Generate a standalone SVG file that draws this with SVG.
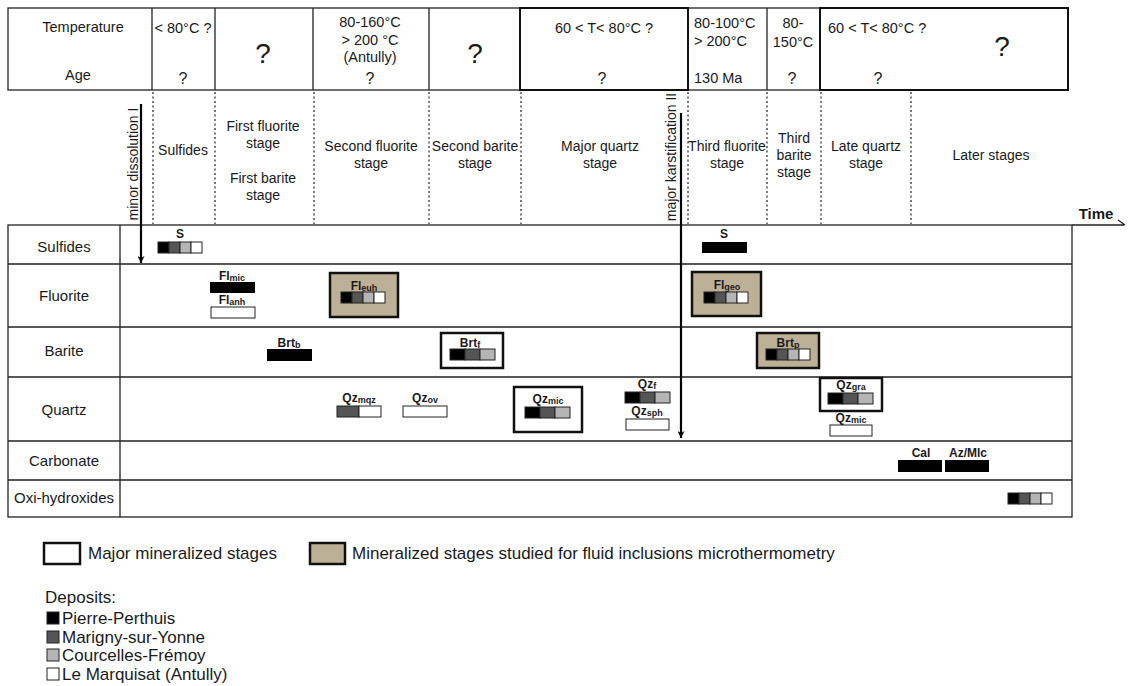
<svg xmlns="http://www.w3.org/2000/svg" width="1128" height="686" viewBox="0 0 1128 686">
<style>
text{font-family:"Liberation Sans",Arial,sans-serif;fill:#1a1a1a}
.h{font-size:14.5px}
.hq{font-size:16px}
.big{font-size:28px}
.st{font-size:14px}
.rl{font-size:15px}
.bl{font-size:12px;font-weight:bold}
.sub{font-size:9px}
.lg{font-size:17px}
.ln{stroke:#222;stroke-width:1.3;fill:none}
.dot{stroke:#333;stroke-width:1.3;stroke-dasharray:2 2.5}
.box{fill:#fff;stroke:#111;stroke-width:2.5}
.tan{fill:#bcb196;stroke:#111;stroke-width:2.5}
.c{stroke:#222;stroke-width:1}
.arr{stroke:#000;stroke-width:2.2;fill:none}
</style>
<defs>
<g id="bar4">
<rect x="0" y="0" width="11" height="11" fill="#000" class="c"/>
<rect x="11" y="0" width="11" height="11" fill="#555" class="c"/>
<rect x="22" y="0" width="11" height="11" fill="#b5b5b5" class="c"/>
<rect x="33" y="0" width="11" height="11" fill="#fff" class="c"/>
</g>
<g id="bar3">
<rect x="0" y="0" width="15" height="11" fill="#000" class="c"/>
<rect x="15" y="0" width="15" height="11" fill="#555" class="c"/>
<rect x="30" y="0" width="15" height="11" fill="#b5b5b5" class="c"/>
</g>
<marker id="ah" viewBox="0 0 10 10" refX="10" refY="5" markerWidth="12" markerHeight="7" markerUnits="userSpaceOnUse" orient="auto">
<path d="M0,0 L10,5 L0,10 L3,5 z" fill="#000"/>
</marker>
</defs>
<rect width="1128" height="686" fill="#fff"/>

<g id="header">
<rect x="8" y="8" width="1060" height="82" class="ln"/>
<path class="ln" d="M152,8V90M215,8V90M313,8V90M429,8V90M767,8V90"/>
<rect x="520" y="8" width="168" height="82" fill="none" stroke="#111" stroke-width="2"/>
<rect x="820" y="8" width="248" height="82" fill="none" stroke="#111" stroke-width="2"/>
<text class="h" x="83" y="32" text-anchor="middle">Temperature</text>
<text class="h" x="78" y="80" text-anchor="middle">Age</text>
<text class="h" x="183" y="33" text-anchor="middle">&lt; 80°C ?</text>
<text class="hq" x="183" y="84" text-anchor="middle">?</text>
<text class="big" x="263" y="63" text-anchor="middle">?</text>
<text class="h" x="370" y="27" text-anchor="middle">80-160°C</text>
<text class="h" x="370" y="45" text-anchor="middle">&gt; 200 °C</text>
<text class="h" x="370" y="62" text-anchor="middle">(Antully)</text>
<text class="hq" x="370" y="84" text-anchor="middle">?</text>
<text class="big" x="475" y="63" text-anchor="middle">?</text>
<text class="h" x="604" y="33" text-anchor="middle">60 &lt; T&lt; 80°C ?</text>
<text class="hq" x="602" y="84" text-anchor="middle">?</text>
<text class="h" x="694" y="28">80-100°C</text>
<text class="h" x="694" y="46">&gt; 200°C</text>
<text class="h" x="694" y="83">130 Ma</text>
<text class="h" x="793" y="28" text-anchor="middle">80-</text>
<text class="h" x="793" y="47" text-anchor="middle">150°C</text>
<text class="hq" x="792" y="84" text-anchor="middle">?</text>
<text class="h" x="828" y="33">60 &lt; T&lt; 80°C ?</text>
<text class="hq" x="878" y="84" text-anchor="middle">?</text>
<text class="big" x="1002" y="56" text-anchor="middle">?</text>
</g>

<g id="stages">
<path class="dot" d="M153,92V224M215,92V224M314,92V224M429,92V224M521,92V224M688,92V224M767,92V224M821,92V224M911,92V224"/>
<text class="st" x="183" y="155" text-anchor="middle">Sulfides</text>
<text class="st" x="263" y="131" text-anchor="middle">First fluorite</text>
<text class="st" x="263" y="148" text-anchor="middle">stage</text>
<text class="st" x="263" y="183" text-anchor="middle">First barite</text>
<text class="st" x="263" y="200" text-anchor="middle">stage</text>
<text class="st" x="371" y="151" text-anchor="middle">Second fluorite</text>
<text class="st" x="371" y="168" text-anchor="middle">stage</text>
<text class="st" x="475" y="151" text-anchor="middle">Second barite</text>
<text class="st" x="475" y="168" text-anchor="middle">stage</text>
<text class="st" x="600" y="151" text-anchor="middle">Major quartz</text>
<text class="st" x="600" y="168" text-anchor="middle">stage</text>
<text class="st" x="727" y="151" text-anchor="middle">Third fluorite</text>
<text class="st" x="727" y="168" text-anchor="middle">stage</text>
<text class="st" x="794" y="143" text-anchor="middle">Third</text>
<text class="st" x="794" y="160" text-anchor="middle">barite</text>
<text class="st" x="794" y="177" text-anchor="middle">stage</text>
<text class="st" x="866" y="151" text-anchor="middle">Late quartz</text>
<text class="st" x="866" y="168" text-anchor="middle">stage</text>
<text class="st" x="991" y="160" text-anchor="middle">Later stages</text>
<text class="st" transform="translate(138,164) rotate(-90)" text-anchor="middle">minor dissolution I</text>
<text class="st" transform="translate(676,157) rotate(-90)" text-anchor="middle">major karstification II</text>
<text x="1096" y="219" text-anchor="middle" style="font-size:15px;font-weight:bold">Time</text>
</g>

<g id="table">
<rect x="8" y="225" width="1064" height="292" class="ln"/>
<path class="ln" d="M120,225V517M8,264H1072M8,327H1072M8,377H1072M8,441H1072M8,480H1072"/>
<text class="rl" x="64" y="252" text-anchor="middle">Sulfides</text>
<text class="rl" x="64" y="301" text-anchor="middle">Fluorite</text>
<text class="rl" x="64" y="356" text-anchor="middle">Barite</text>
<text class="rl" x="64" y="415" text-anchor="middle">Quartz</text>
<text class="rl" x="64" y="466" text-anchor="middle">Carbonate</text>
<text class="rl" x="64" y="503" text-anchor="middle">Oxi-hydroxides</text>
</g>

<g id="s1"><text class="bl" x="180" y="238" text-anchor="middle">S</text><use href="#bar4" x="158" y="242"/></g>
<g id="fl-mic"><text class="bl" x="232" y="280" text-anchor="middle">Fl<tspan class="sub" dy="1">mic</tspan></text><rect x="210" y="282" width="45" height="11" fill="#000"/></g>
<g id="fl-anh"><text class="bl" x="232" y="304" text-anchor="middle">Fl<tspan class="sub" dy="1">anh</tspan></text><rect x="211" y="307" width="44" height="11" fill="#fff" class="c"/></g>
<g id="fl-euh"><rect x="330" y="273" width="68" height="44" class="tan"/><text class="bl" x="364" y="290" text-anchor="middle">Fl<tspan class="sub" dy="1">euh</tspan></text><use href="#bar4" x="341" y="292"/></g>
<g id="fl-geo"><rect x="692" y="272" width="69" height="44" class="tan"/><text class="bl" x="727" y="289" text-anchor="middle">Fl<tspan class="sub" dy="1">geo</tspan></text><use href="#bar4" x="704" y="292"/></g>
<g id="s2"><text class="bl" x="724" y="238" text-anchor="middle">S</text><rect x="702" y="242" width="45" height="11" fill="#000"/></g>
<g id="brt-b"><text class="bl" x="289" y="347" text-anchor="middle">Brt<tspan class="sub" dy="1">b</tspan></text><rect x="267" y="349" width="45" height="12" fill="#000"/></g>
<g id="brt-f"><rect x="441" y="333" width="62" height="35" class="box"/><text class="bl" x="470" y="347" text-anchor="middle">Brt<tspan class="sub" dy="1">f</tspan></text><use href="#bar3" x="450" y="349"/></g>
<g id="brt-p"><rect x="757" y="333" width="62" height="35" class="tan"/><text class="bl" x="788" y="347" text-anchor="middle">Brt<tspan class="sub" dy="1">p</tspan></text><use href="#bar4" x="766" y="349"/></g>
<g id="qz-mqz"><text class="bl" x="359" y="402" text-anchor="middle">Qz<tspan class="sub" dy="1">mqz</tspan></text><rect x="337" y="406" width="22" height="11" fill="#555" class="c"/><rect x="359" y="406" width="22" height="11" fill="#fff" class="c"/></g>
<g id="qz-ov"><text class="bl" x="425" y="402" text-anchor="middle">Qz<tspan class="sub" dy="1">ov</tspan></text><rect x="403" y="406" width="44" height="11" fill="#fff" class="c"/></g>
<g id="qz-mic"><rect x="514" y="387" width="68" height="45" class="box"/><text class="bl" x="548" y="403" text-anchor="middle">Qz<tspan class="sub" dy="1">mic</tspan></text><use href="#bar3" x="525" y="407"/></g>
<g id="qz-f"><text class="bl" x="647" y="388" text-anchor="middle">Qz<tspan class="sub" dy="1">f</tspan></text><use href="#bar3" x="625" y="392"/></g>
<g id="qz-sph"><text class="bl" x="647" y="415" text-anchor="middle">Qz<tspan class="sub" dy="1">sph</tspan></text><rect x="626" y="419" width="43" height="11" fill="#fff" class="c"/></g>
<g id="qz-gra"><rect x="820" y="378" width="62" height="33" class="box"/><text class="bl" x="851" y="389" text-anchor="middle">Qz<tspan class="sub" dy="1">gra</tspan></text><use href="#bar3" x="828" y="393"/></g>
<g id="qz-mic2"><text class="bl" x="851" y="422" text-anchor="middle">Qz<tspan class="sub" dy="1">mic</tspan></text><rect x="830" y="425" width="42" height="11" fill="#fff" class="c"/></g>
<g id="cal"><text class="bl" x="921" y="457" text-anchor="middle">Cal</text><rect x="898" y="460" width="44" height="12" fill="#000"/></g>
<g id="az-mlc"><text class="bl" x="968" y="457" text-anchor="middle">Az/Mlc</text><rect x="945" y="460" width="44" height="12" fill="#000"/></g>
<g id="oxi"><use href="#bar4" x="1008" y="493"/></g>

<g id="connectors">
<line x1="141" y1="104" x2="141" y2="263" class="arr" marker-end="url(#ah)"/>
<line x1="681" y1="113" x2="681" y2="438" class="arr" marker-end="url(#ah)"/>
<path d="M1072,225H1124M1118,220L1125,225" class="ln"/>
</g>

<g id="legend">
<rect x="44" y="543" width="36" height="21" class="box"/>
<text class="lg" x="88" y="559">Major mineralized stages</text>
<rect x="310" y="543" width="35" height="21" class="tan"/>
<text class="lg" x="352" y="559">Mineralized stages studied for fluid inclusions microthermometry</text>
<text class="lg" x="45" y="603">Deposits:</text>
<rect x="47" y="612" width="12" height="12" fill="#000" class="c"/>
<text class="lg" x="62" y="624">Pierre-Perthuis</text>
<rect x="47" y="631" width="12" height="12" fill="#555" class="c"/>
<text class="lg" x="62" y="643">Marigny-sur-Yonne</text>
<rect x="47" y="649" width="12" height="12" fill="#b5b5b5" class="c"/>
<text class="lg" x="62" y="661">Courcelles-Frémoy</text>
<rect x="47" y="668" width="12" height="12" fill="#fff" class="c"/>
<text class="lg" x="62" y="680">Le Marquisat (Antully)</text>
</g>
</svg>
